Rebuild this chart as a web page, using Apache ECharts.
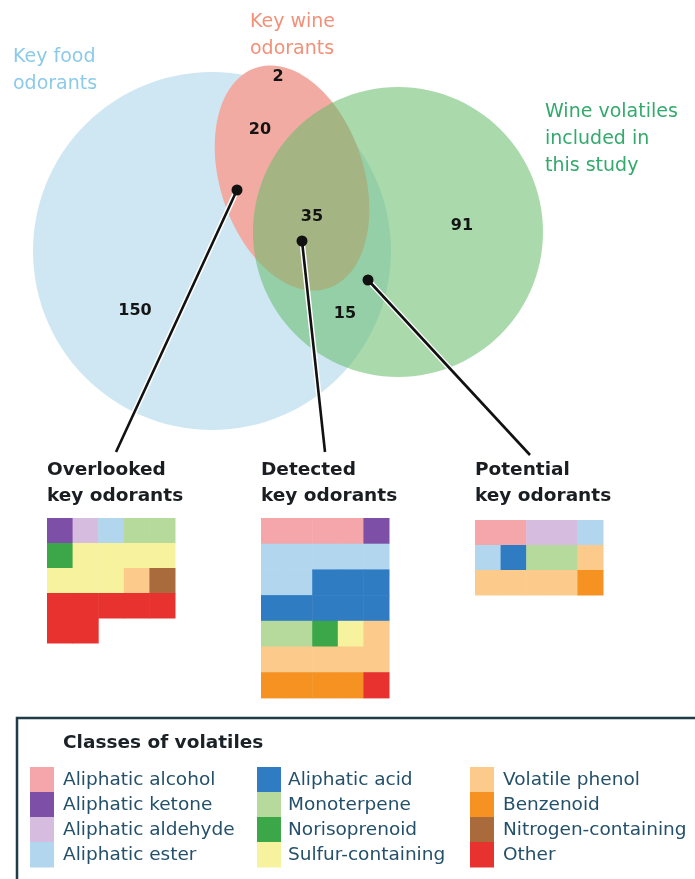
<!DOCTYPE html>
<html>
<head>
<meta charset="utf-8">
<script src="https://cdn.jsdelivr.net/npm/echarts@6/dist/echarts.min.js"></script>
<style>
  html, body { margin: 0; padding: 0; background: #fff; }
  #chart { width: 695px; height: 879px; }
</style>
</head>
<body>
<div id="chart"></div>
<script>
// classes of volatiles (legend order)
const classNames = ['Aliphatic alcohol', 'Aliphatic ketone', 'Aliphatic aldehyde', 'Aliphatic ester',
  'Aliphatic acid', 'Monoterpene', 'Norisoprenoid', 'Sulfur-containing',
  'Volatile phenol', 'Benzenoid', 'Nitrogen-containing', 'Other'];
const classColors = ['#f4a6ab', '#7d4fa6', '#d6bde0', '#b2d6ee',
  '#2f7cc2', '#b6da9c', '#3ba748', '#f7f29e',
  '#fcca8a', '#f59222', '#a96a3c', '#e7322f'];

// venn sets and region counts
const setNames = ['Key food\nodorants', 'Key wine\nodorants', 'Wine volatiles\nincluded in\nthis study'];
const regionCounts = [150, 20, 2, 35, 15, 91]; // food only, food+wine, wine only, all three, food+study, study only

// waffle groups: runs of [class index, count], filled row by row, 5 per row
const groupTitles = ['Overlooked\nkey odorants', 'Detected\nkey odorants', 'Potential\nkey odorants'];
const overlooked = [[1, 1], [2, 1], [3, 1], [5, 2], [6, 1], [7, 7], [8, 1], [10, 1], [11, 7]];
const detected = [[0, 4], [1, 1], [3, 7], [4, 8], [5, 2], [6, 1], [7, 1], [8, 6], [9, 4], [11, 1]];
const potential = [[0, 2], [2, 2], [3, 2], [4, 1], [5, 2], [8, 5], [9, 1]];

// ---- layout (pixel space of the hidden full-page grid) ----
const FONT = 'DejaVu Sans';
const vennShapes = [ // cx, cy, rx, ry, tilt (deg), fill
  [212, 251, 179, 179, 0, '#cfe7f3'],
  [292, 178, 72, 116, -18, '#f1aba2'],
  [398, 232, 145, 145, 0, 'rgba(100,188,104,0.55)']
];
const setLabelPos = [[13, 57, '#8ccaea'], [250, 22, '#f39079'], [545, 112, '#33aa6c']];
const countPos = [[135, 311], [260, 130], [278, 77], [312, 217], [345, 314], [462, 226]];
const connectors = [[237, 190, 116, 452], [302, 241, 325, 452], [368, 280, 530, 455]];
const waffleBoxes = [ // left, top, cell height
  [47, 518, 25], [261, 518, 25.7], [475, 520, 25]
];

let chart = echarts.init(document.getElementById('chart'));

function cellsOf(runs) {
  let cells = [];
  let i = 0;
  runs.forEach(r => {
    for (let k = 0; k < r[1]; k++) {
      cells.push([i % 5, Math.floor(i / 5), r[0]]);
      i++;
    }
  });
  return cells;
}

const groups = [overlooked, detected, potential].map(cellsOf);

let grids = [{ left: 0, top: 0, width: 695, height: 879 }];
let xAxes = [{ type: 'value', min: 0, max: 695, show: false, gridIndex: 0 }];
let yAxes = [{ type: 'value', min: 0, max: 879, inverse: true, show: false, gridIndex: 0 }];
let titles = [];
let series = [];

// venn circles
series.push({
  type: 'custom',
  xAxisIndex: 0, yAxisIndex: 0,
  silent: true,
  data: vennShapes.map(s => s.slice(0, 5)),
  renderItem(params, api) {
    const s = vennShapes[params.dataIndex];
    const t = s[4] * Math.PI / 180;
    let pts = [];
    for (let k = 0; k < 120; k++) {
      const a = k / 120 * Math.PI * 2;
      const ex = s[2] * Math.cos(a), ey = s[3] * Math.sin(a);
      pts.push(api.coord([s[0] + ex * Math.cos(t) - ey * Math.sin(t), s[1] + ex * Math.sin(t) + ey * Math.cos(t)]));
    }
    return { type: 'polygon', shape: { points: pts }, style: { fill: s[5] } };
  }
});

// connector lines with dots
series.push({
  type: 'custom',
  xAxisIndex: 0, yAxisIndex: 0,
  silent: true,
  data: connectors,
  renderItem(params, api) {
    const a = api.coord([api.value(0), api.value(1)]);
    const b = api.coord([api.value(2), api.value(3)]);
    return {
      type: 'group', children: [
        { type: 'line', shape: { x1: a[0], y1: a[1], x2: b[0], y2: b[1] }, style: { stroke: '#fff', lineWidth: 5.5 } },
        { type: 'line', shape: { x1: a[0], y1: a[1], x2: b[0], y2: b[1] }, style: { stroke: '#111', lineWidth: 2.6 } },
        { type: 'circle', shape: { cx: a[0], cy: a[1], r: 5.5 }, style: { fill: '#111' } }
      ]
    };
  }
});

// region counts
series.push({
  type: 'custom',
  xAxisIndex: 0, yAxisIndex: 0,
  silent: true,
  data: regionCounts.map((c, i) => [countPos[i][0], countPos[i][1], c]),
  renderItem(params, api) {
    const p = api.coord([api.value(0), api.value(1)]);
    return {
      type: 'text', x: p[0], y: p[1],
      style: { text: String(api.value(2)), fill: '#141414', fontSize: 16, fontWeight: 'bold', fontFamily: FONT, align: 'center', verticalAlign: 'middle' }
    };
  }
});

// set names
series.push({
  type: 'custom',
  xAxisIndex: 0, yAxisIndex: 0,
  silent: true,
  data: setNames.map((n, i) => [setLabelPos[i][0], setLabelPos[i][1]]),
  renderItem(params, api) {
    const p = api.coord([api.value(0), api.value(1) - 13]);
    return {
      type: 'text', x: p[0], y: p[1],
      style: { text: setNames[params.dataIndex], fill: setLabelPos[params.dataIndex][2], fontSize: 19, fontFamily: FONT, lineHeight: 27, align: 'left', verticalAlign: 'top' }
    };
  }
});

// waffles
groups.forEach((cells, g) => {
  const rows = Math.ceil(cells.length / 5);
  const box = waffleBoxes[g];
  grids.push({ left: box[0], top: box[1], width: 128, height: rows * box[2] });
  xAxes.push({ type: 'value', min: 0, max: 5, show: false, gridIndex: g + 1 });
  yAxes.push({ type: 'value', min: 0, max: rows, inverse: true, show: false, gridIndex: g + 1 });
  titles.push({
    text: groupTitles[g], left: box[0], top: 457, padding: 0,
    textStyle: { fontSize: 18.5, fontWeight: 'bold', fontFamily: FONT, color: '#1a1e22', lineHeight: 26 }
  });
  series.push({
    type: 'custom',
    xAxisIndex: g + 1, yAxisIndex: g + 1,
    silent: true,
    data: cells,
    renderItem(params, api) {
      const p0 = api.coord([api.value(0), api.value(1)]);
      const p1 = api.coord([api.value(0) + 1, api.value(1) + 1]);
      return {
        type: 'rect',
        shape: { x: p0[0], y: p0[1], width: p1[0] - p0[0] + 0.5, height: p1[1] - p0[1] + 0.5 },
        style: { fill: classColors[api.value(2)] }
      };
    }
  });
});

// legend box
let legendEls = [
  { type: 'rect', shape: { x: 17, y: 718, width: 700, height: 220 }, style: { fill: 'none', stroke: '#1f3b48', lineWidth: 2.5 } },
  { type: 'text', x: 63, y: 743, style: { text: 'Classes of volatiles', fill: '#1a2228', fontSize: 18.5, fontWeight: 'bold', fontFamily: FONT, verticalAlign: 'middle' } }
];
const colX = [[30, 63], [257, 288], [470, 503]];
classNames.forEach((n, i) => {
  const c = Math.floor(i / 4), r = i % 4;
  legendEls.push({ type: 'rect', shape: { x: colX[c][0], y: 767 + r * 25, width: 24, height: 25.5 }, style: { fill: classColors[i] } });
  legendEls.push({ type: 'text', x: colX[c][1], y: 780 + r * 25, style: { text: n, fill: '#24506a', fontSize: 18.5, fontFamily: FONT, verticalAlign: 'middle' } });
});

let option = {
  animation: false,
  backgroundColor: '#fff',
  title: titles,
  grid: grids,
  xAxis: xAxes,
  yAxis: yAxes,
  graphic: legendEls,
  series: series
};
chart.setOption(option);
</script>
</body>
</html>
